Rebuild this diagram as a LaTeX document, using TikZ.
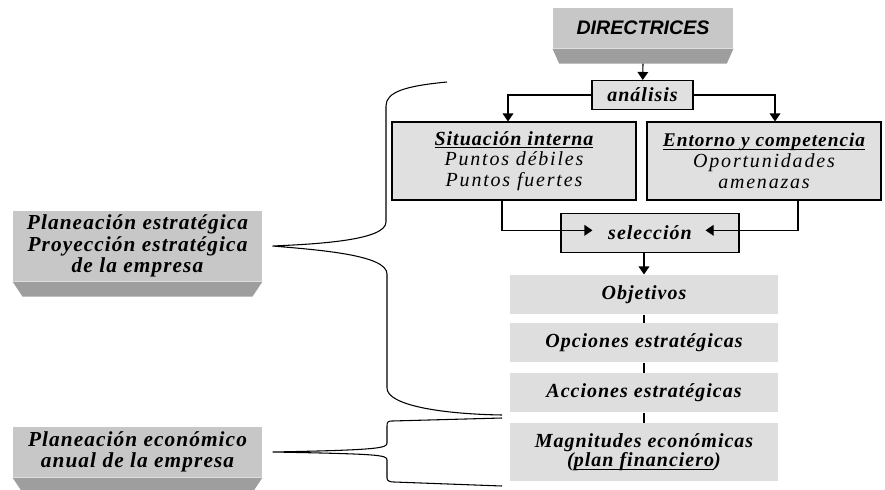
\documentclass[tikz,border=0pt]{standalone}
\usepackage{fontspec}
\setmainfont{Liberation Serif}
\setsansfont{Liberation Sans}
\newfontfamily\spc{Liberation Serif}[LetterSpace=5]
\newfontfamily\spi{Liberation Serif}[LetterSpace=9]
\usetikzlibrary{arrows.meta,positioning}

% underline drawn just under the baseline
\newcommand\ulin[1]{\setbox0=\hbox{#1}\rlap{\rule[-2pt]{\wd0}{0.6pt}}\box0}
% lower face of a raised box
\newcommand\bevel[3]{\fill[bev] (#1.south west) -- (#1.south east) -- ([shift={(-#2,-#3)}]#1.south east) -- ([shift={(#2,-#3)}]#1.south west) -- cycle;}

\begin{document}
\begin{tikzpicture}[x=0.75pt,y=-0.75pt,>={Triangle[width=8pt,length=6pt]},line width=0.8pt,
 gbox/.style={draw,fill=black!12,inner sep=0pt,align=center},
 pbox/.style={fill=black!13,inner sep=0pt,minimum width=201pt,minimum height=29.25pt,align=center},
 slab/.style={fill=black!22,inner sep=0pt,align=center,minimum width=186.75pt},
 bev/.style={fill=black!38},
 tt/.style={font=\spc\bfseries\itshape\fontsize{15}{14.5}\selectfont},
 lt/.style={font=\spc\bfseries\itshape\fontsize{16}{16}\selectfont},
 it/.style={font=\spi\itshape\fontsize{15}{15.5}\selectfont}]
\useasboundingbox (0,0) rectangle (885,489);
\node[slab,minimum width=135pt,minimum height=30pt,font=\sffamily\bfseries\itshape\fontsize{14.7}{16}\selectfont] (dir) at (643,28) {DIRECTRICES};
\bevel{dir}{5pt}{11.25pt}
\node[gbox,tt,minimum width=75.75pt,minimum height=21.75pt] (ana) at (642.5,95) {análisis};
\node[gbox,it,minimum width=183pt,minimum height=58.5pt] (sit) at (514,161) {{\spc\bfseries\ulin{Situación interna}}\\Puntos débiles\\Puntos fuertes};
\node[gbox,it,minimum width=175.5pt,minimum height=58.5pt] (ent) at (764,161) {{\spc\bfseries\fontsize{14.5}{15.5}\selectfont\ulin{Entorno y competencia}}\\Oportunidades\\amenazas};
\node[gbox,tt,minimum width=133.5pt,minimum height=29.25pt] (sel) at (650,233) {selección};
\node[pbox,tt] (obj) at (644,294.5) {Objetivos};
\node[pbox,tt,below=6pt of obj] (opc) {Opciones estratégicas};
\node[pbox,tt,below=7.5pt of opc] (acc) {Acciones estratégicas};
\node[pbox,tt,minimum height=43.5pt,below=7.5pt of acc] (mag) {Magnitudes económicas\\(\ulin{plan financiero})};
\node[slab,lt,minimum height=52.5pt] (pe) at (137.5,246) {Planeación estratégica\\Proyección estratégica\\de la empresa};
\bevel{pe}{7.5pt}{11.25pt}
\node[slab,lt,minimum height=37.5pt] (pa) at (137.5,452) {Planeación económico\\anual de la empresa};
\bevel{pa}{7.5pt}{11.25pt}
\coordinate (bt) at ([xshift=7.5pt]pe.east);
\coordinate (bt2) at ([xshift=7.5pt]pa.east);
\draw[->] ([yshift=-11.25pt]dir.south) -- (ana);
\draw[->] (ana.west) -| ([xshift=-4.5pt]sit.north);
\draw[->] (ana.east) -| ([xshift=8.25pt]ent.north);
\draw[->] ([xshift=-9pt]sit.south) |- ([shift={(24pt,2pt)}]sel.west);
\draw[->] ([xshift=25.5pt]ent.south) |- ([shift={(-25.5pt,2pt)}]sel.east);
\draw[->] (sel.south -| obj.north) -- (obj.north);
\draw (obj) -- (opc) (opc) -- (acc) (acc) -- (mag);
\draw (447,82) .. controls (405,86) and (386,92) .. (386,106) -- (386,222) .. controls (386,240) and (320,244) .. (bt) .. controls (320,250) and (387,255) .. (387,274) -- (387,388) .. controls (387,405) and (440,414) .. (502,415);
\draw (502,418) -- (392,421) .. controls (388,421) and (387,422) .. (387,426) -- (387,443) .. controls (387,448) and (380,450) .. (bt2) .. controls (380,454) and (387,455) .. (387,460) -- (387,478) .. controls (387,481) and (390,482) .. (394,482) -- (502,486);
\end{tikzpicture}
\end{document}
